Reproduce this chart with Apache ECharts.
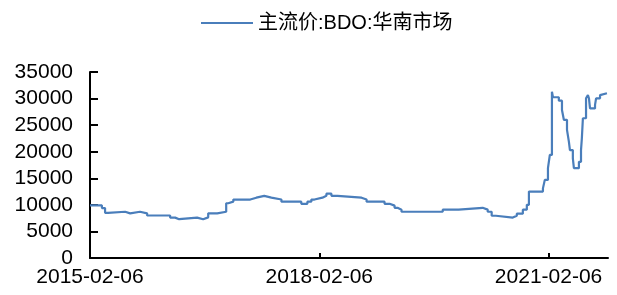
<!DOCTYPE html>
<html>
<head>
<meta charset="utf-8">
<script src="https://cdn.jsdelivr.net/npm/echarts@6/dist/echarts.min.js"></script>
<style>
  html, body { margin: 0; padding: 0; background: #fff; }
  #chart { width: 617px; height: 295px; }
</style>
</head>
<body>
<div id="chart"></div>
<script>
// 主流价:BDO:华南市场 — 价格变动点（每个点为新价位的起始日）
var dates = [
    '2015-02-06', '2015-04-04', '2015-04-19', '2015-05-03', '2015-07-24', '2015-08-17',
    '2015-10-03', '2015-11-06', '2016-02-24', '2016-03-19', '2016-04-07', '2016-07-02',
    '2016-07-31', '2016-08-24', '2016-10-06', '2016-11-18', '2016-11-28', '2016-12-22',
    '2017-03-13', '2017-04-11', '2017-05-19', '2017-06-22', '2017-08-09', '2017-11-12',
    '2017-12-11', '2017-12-30', '2018-01-14', '2018-02-21', '2018-03-12', '2018-04-05',
    '2018-05-04', '2018-08-27', '2018-09-20', '2018-12-15', '2019-01-08', '2019-02-01',
    '2019-02-15', '2019-03-06', '2019-09-19', '2019-12-04', '2020-03-28', '2020-04-21',
    '2020-05-10', '2020-05-30', '2020-08-19', '2020-09-07', '2020-10-06', '2020-10-25',
    '2020-11-04', '2021-01-10', '2021-01-19', '2021-02-03', '2021-02-12', '2021-02-22',
    '2021-02-27', '2021-03-27', '2021-04-11', '2021-04-20', '2021-05-05', '2021-05-14',
    '2021-05-19', '2021-06-02', '2021-06-07', '2021-07-01', '2021-07-11', '2021-07-15',
    '2021-07-20', '2021-08-04', '2021-08-13', '2021-08-18', '2021-08-23', '2021-09-16',
    '2021-09-21', '2021-10-10', '2021-10-19', '2021-11-12'
];
var prices = [
    9900, 9400, 8500, 8700, 8400, 8700,
    8400, 8000, 7600, 7300, 7600, 7300,
    7650, 8400, 8700, 10300, 10600, 11000,
    11350, 11700, 11350, 11000, 10600, 10200,
    10600, 11000, 11350, 11700, 12100, 11700,
    11350, 11000, 10600, 10200, 9850, 9450,
    9100, 8700, 9100, 9450, 9100, 8700,
    7950, 7600, 7950, 8350, 9100, 10000,
    12500, 13100, 14700, 16900, 19400, 31300,
    30250, 29600, 27850, 26000, 24100, 21900,
    20300, 18750, 16900, 18100, 20300, 22500,
    26300, 30050, 30650, 30050, 28150, 28800,
    30050, 30650, 31000, 31000
];
var xTickDates = ['2015-02-06', '2018-02-06', '2021-02-06'];
var xStart = '2015-02-06';
var xEnd = '2021-11-17';

function toTime(s) {
    var p = s.split('-');
    return new Date(+p[0], +p[1] - 1, +p[2]).getTime();
}
function pad(n) { return n < 10 ? '0' + n : '' + n; }
function fmtDate(v) {
    var d = new Date(v);
    return d.getFullYear() + '-' + pad(d.getMonth() + 1) + '-' + pad(d.getDate());
}

var seriesData = dates.map(function (d, i) { return [toTime(d), prices[i]]; });
var xTicks = xTickDates.map(toTime);

var myChart = echarts.init(document.getElementById('chart'));
var font = 'Liberation Sans, Arial, Noto Sans CJK SC, sans-serif';

var option = {
    animation: false,
    legend: {
        left: 196,
        top: 8,
        icon: 'rect',
        itemWidth: 52,
        itemHeight: 2,
        itemGap: 10,
        textStyle: { fontSize: 20, color: '#000', fontFamily: font },
        data: ['主流价:BDO:华南市场']
    },
    grid: { left: 90, right: 9, top: 72, bottom: 37, containLabel: false },
    xAxis: {
        type: 'value',
        min: toTime(xStart),
        max: toTime(xEnd),
        splitLine: { show: false },
        axisLine: { lineStyle: { color: '#000', width: 2 } },
        axisTick: { inside: true, length: 5, lineStyle: { color: '#000', width: 2 }, customValues: xTicks },
        axisLabel: {
            customValues: xTicks,
            color: '#000',
            fontSize: 21,
            fontFamily: font,
            margin: 9,
            formatter: function (v) { return fmtDate(v); }
        }
    },
    yAxis: {
        type: 'value',
        min: 0,
        max: 35000,
        interval: 5000,
        splitLine: { show: false },
        axisLine: { show: true, lineStyle: { color: '#000', width: 2 } },
        axisTick: { show: true, inside: true, length: 8, lineStyle: { color: '#000', width: 2 } },
        axisLabel: {
            color: '#000',
            fontSize: 21,
            fontFamily: font,
            margin: 17,
            formatter: function (v) { return String(v); }
        }
    },
    series: [{
        name: '主流价:BDO:华南市场',
        type: 'line',
        step: 'end',
        symbol: 'none',
        lineStyle: { color: '#4a7ebb', width: 2.2 },
        itemStyle: { color: '#4a7ebb' },
        data: seriesData
    }]
};
myChart.setOption(option);
</script>
</body>
</html>
